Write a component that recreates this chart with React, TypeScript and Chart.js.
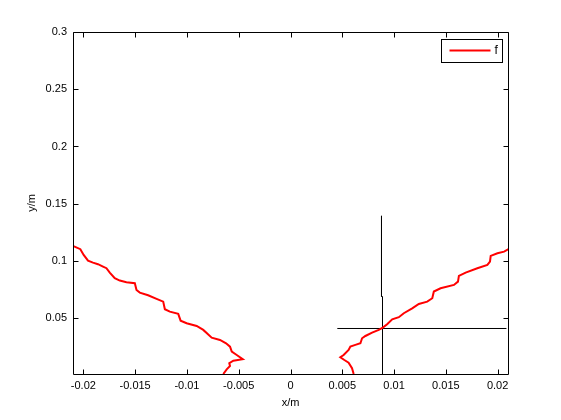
import React, { useEffect, useRef } from "react";
import { Chart, registerables } from "chart.js";

Chart.register(...registerables);

// Left red curve (x in m, y in m)
const leftX = [-0.02101, -0.02029, -0.01997, -0.01955, -0.01907, -0.01859, -0.0181, -0.01777, -0.01745, -0.01697, -0.01648, -0.01584, -0.01503, -0.01487, -0.01455, -0.01375, -0.01293, -0.01229, -0.01213, -0.01165, -0.01084, -0.01061, -0.01003, -0.00906, -0.00842, -0.00761, -0.00681, -0.00622, -0.00584, -0.00567, -0.00519, -0.00461, -0.00552, -0.00591, -0.00584, -0.00616, -0.00649];
const leftY = [0.1132, 0.1103, 0.1053, 0.1003, 0.0986, 0.0972, 0.0951, 0.0937, 0.0899, 0.085, 0.0829, 0.0815, 0.0806, 0.0747, 0.0724, 0.0701, 0.0669, 0.0645, 0.0579, 0.0558, 0.0538, 0.0479, 0.0456, 0.0433, 0.0398, 0.033, 0.031, 0.0281, 0.0252, 0.0208, 0.0179, 0.0142, 0.0129, 0.0107, 0.0083, 0.0054, 0.0013];

// Right red curve
const rightX = [0.0061, 0.00594, 0.00561, 0.0052, 0.00481, 0.00513, 0.00561, 0.00578, 0.00626, 0.00675, 0.00691, 0.00723, 0.00788, 0.00852, 0.00891, 0.00933, 0.00982, 0.01046, 0.01094, 0.01175, 0.01239, 0.0132, 0.01369, 0.01384, 0.01449, 0.01578, 0.01617, 0.01626, 0.01691, 0.01804, 0.01901, 0.01926, 0.01933, 0.01998, 0.02062, 0.0211];
const rightY = [0.0013, 0.0063, 0.0112, 0.0135, 0.0159, 0.0179, 0.0223, 0.0252, 0.0267, 0.0281, 0.0325, 0.0345, 0.0374, 0.0398, 0.0418, 0.0448, 0.0491, 0.0509, 0.0544, 0.0587, 0.0625, 0.0645, 0.0675, 0.0733, 0.0762, 0.0791, 0.082, 0.087, 0.0899, 0.0937, 0.0966, 0.0995, 0.1045, 0.1068, 0.1082, 0.1106];

// Black cross lines
const vUpperX = [0.008786, 0.008786];
const vUpperY = [0.1394, 0.0689];
const vLowerX = [0.008883, 0.008883];
const vLowerY = [0.0689, 0.0013];
const hLineX = [0.00452, 0.02085];
const hLineY = [0.04104, 0.04104];

const xMin = -0.021;
const xMax = 0.021;
const yMin = 0.0013;
const yMax = 0.3;
const xStep = 0.005;
const yStep = 0.05;
const legendLabel = "f";
const xTitle = "x/m";
const yTitle = "y/m";

const pts = (xs: number[], ys: number[]) => xs.map((x, i) => ({ x, y: ys[i] }));
const fmt = (v: number) => String(Number(v.toFixed(4)));
const FONT = "Liberation Sans, Arial, Helvetica, sans-serif";

const framePlugin = {
  id: "matlabFrame",
  afterDraw(chart: any) {
    const ctx = chart.ctx;
    const { left, right, top, bottom } = chart.chartArea;
    const xs = chart.scales.x;
    const ys = chart.scales.y;
    ctx.save();
    ctx.strokeStyle = "#000";
    ctx.lineWidth = 1;
    const L = Math.round(left) + 0.5;
    const R = Math.round(right) + 0.5;
    const T = Math.round(top) + 0.5;
    const B = Math.round(bottom) + 0.5;
    ctx.beginPath();
    ctx.rect(L, T, R - L, B - T);
    ctx.stroke();
    const tl = 5;
    ctx.beginPath();
    xs.ticks.forEach((t: any) => {
      const px = Math.round(xs.getPixelForValue(t.value)) + 0.5;
      ctx.moveTo(px, B);
      ctx.lineTo(px, B - tl);
      ctx.moveTo(px, T);
      ctx.lineTo(px, T + tl);
    });
    ys.ticks.forEach((t: any) => {
      const py = Math.round(ys.getPixelForValue(t.value)) + 0.5;
      ctx.moveTo(L, py);
      ctx.lineTo(L + tl, py);
      ctx.moveTo(R, py);
      ctx.lineTo(R - tl, py);
    });
    ctx.stroke();

    // axis titles
    ctx.fillStyle = "#000";
    ctx.font = `11px ${FONT}`;
    ctx.textAlign = "center";
    ctx.textBaseline = "middle";
    ctx.fillText(xTitle, (left + right) / 2, 403);
    ctx.save();
    ctx.translate(32, (top + bottom) / 2);
    ctx.rotate(-Math.PI / 2);
    ctx.fillText(yTitle, 0, 0);
    ctx.restore();

    // legend
    const bw = 61;
    const bh = 23;
    const bx = Math.round(right) - 6 - bw + 0.5;
    const by = Math.round(top) + 7 + 0.5;
    ctx.fillStyle = "#fff";
    ctx.fillRect(bx, by, bw, bh);
    ctx.strokeStyle = "#000";
    ctx.lineWidth = 1;
    ctx.strokeRect(bx, by, bw, bh);
    ctx.strokeStyle = "#ff0000";
    ctx.lineWidth = 2;
    ctx.beginPath();
    ctx.moveTo(bx + 8, by + 11);
    ctx.lineTo(bx + 49, by + 11);
    ctx.stroke();
    ctx.fillStyle = "#000";
    ctx.textAlign = "left";
    ctx.font = `12px ${FONT}`;
    ctx.fillText(legendLabel, bx + 53, by + 11);
    ctx.restore();
  },
};

export default function App() {
  const ref = useRef<HTMLCanvasElement | null>(null);
  useEffect(() => {
    if (!ref.current) return;
    const red = { borderColor: "#ff0000", borderWidth: 2, pointRadius: 0, showLine: true, fill: false };
    const blk = { borderColor: "#000000", borderWidth: 1, pointRadius: 0, showLine: true, fill: false };
    const chart = new Chart(ref.current, {
      type: "scatter",
      data: {
        datasets: [
          { label: legendLabel, data: pts(leftX, leftY), ...red },
          { label: legendLabel, data: pts(rightX, rightY), ...red },
          { label: "v1", data: pts(vUpperX, vUpperY), ...blk },
          { label: "v2", data: pts(vLowerX, vLowerY), ...blk },
          { label: "h", data: pts(hLineX, hLineY), ...blk },
        ],
      },
      options: {
        responsive: false,
        animation: false,
        layout: { padding: { top: 32, right: 53, left: 0, bottom: 0 } },
        plugins: { legend: { display: false }, tooltip: { enabled: false } },
        scales: {
          x: {
            type: "linear",
            min: xMin,
            max: xMax,
            grid: { display: false, drawTicks: false },
            border: { display: false },
            ticks: {
              stepSize: xStep,
              includeBounds: false,
              maxRotation: 0,
              autoSkip: false,
              padding: 5,
              color: "#000",
              font: { family: FONT, size: 11 },
              callback: (v: any) => fmt(Number(v)),
            },
            afterFit: (s: any) => {
              s.height = 46;
            },
          },
          y: {
            type: "linear",
            min: yMin,
            max: yMax,
            grid: { display: false, drawTicks: false },
            border: { display: false },
            ticks: {
              stepSize: yStep,
              includeBounds: false,
              autoSkip: false,
              padding: 6,
              color: "#000",
              font: { family: FONT, size: 11 },
              callback: (v: any) => fmt(Number(v)),
            },
            afterFit: (s: any) => {
              s.width = 73;
            },
          },
        },
      },
      plugins: [
        {
          id: "whiteBg",
          beforeDraw(c: any) {
            const ctx = c.ctx;
            ctx.save();
            ctx.fillStyle = "#fff";
            ctx.fillRect(0, 0, c.width, c.height);
            ctx.restore();
          },
        },
        framePlugin,
      ],
    } as any);
    return () => chart.destroy();
  }, []);
  return (
    <div style={{ position: "absolute", left: 0, top: 0, width: 561, height: 420, background: "#fff" }}>
      <canvas ref={ref} width={561} height={420} />
    </div>
  );
}
